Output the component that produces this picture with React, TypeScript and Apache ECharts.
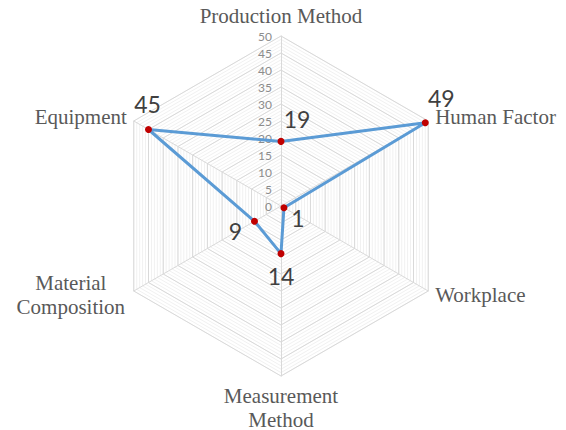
import React, { useEffect, useRef } from "react";
import * as echarts from "echarts";

// Indicators in ECharts order (counter-clockwise from top)
const indicatorNames = [
  "Production Method",
  "Equipment",
  "Material\nComposition",
  "Measurement\nMethod",
  "Workplace",
  "Human Factor",
];
const values = [19, 45, 9, 14, 1, 49];
const axisMax = 50;
const tickStep = 5;
// label offsets [dx, dy] relative to each point, same order as values
const labelOffsets = [
  [16, -22],
  [-1, -26],
  [-19, 10],
  [0, 22],
  [14, 10],
  [16, -25],
];

export default function App() {
  const ref = useRef<HTMLDivElement>(null);
  useEffect(() => {
    if (!ref.current) return;
    const chart = echarts.init(ref.current, null, { renderer: "svg" });
    const center = [281, 206];
    const radius = 170;
    const rich: Record<string, any> = {};
    // padding: [top, right, bottom, left]; to move text up, add bottom padding
    labelOffsets.forEach(([dx, dy], i) => {
      rich["s" + i] = {
        fontFamily: "Lato",
        fontSize: 23,
        color: "#404040",
        padding: [
          dy > 0 ? 2 * dy : 0,
          dx < 0 ? -2 * dx : 0,
          dy < 0 ? -2 * dy : 0,
          dx > 0 ? 2 * dx : 0,
        ],
      };
    });
    chart.setOption({
      animation: false,
      radar: [
        {
          center,
          radius,
          startAngle: 90,
          shape: "polygon",
          splitNumber: axisMax,
          indicator: indicatorNames.map(() => ({ name: "", max: axisMax, min: 0 })),
          axisName: { show: false },
          splitLine: { lineStyle: { color: "#f1f1f1", width: 1 } },
          splitArea: { show: false },
          axisLine: { show: false },
          axisLabel: { show: false },
          axisTick: { show: false },
          silent: true,
        },
        {
          center,
          radius,
          startAngle: 90,
          shape: "polygon",
          splitNumber: axisMax / tickStep,
          nameGap: 8,
          indicator: indicatorNames.map((n, i) => ({
            name: n,
            max: axisMax,
            min: 0,
            ...(i === 0
              ? {
                  axisLabel: {
                    show: true,
                    fontSize: 12,
                    color: "#8c8c8c",
                    fontFamily: "Lato",
                    margin: 9,
                  },
                }
              : {}),
          })),
          axisName: {
            color: "#595959",
            fontFamily: "Liberation Serif",
            fontSize: 21,
            lineHeight: 24,
            formatter: (name: string) =>
              name.indexOf("\n") >= 0
                ? name
                    .split("\n")
                    .map((l) => `{c|${l}}`)
                    .join("\n")
                : name,
            rich: {
              c: {
                color: "#595959",
                fontFamily: "Liberation Serif",
                fontSize: 21,
                lineHeight: 24,
                width: 112,
                align: "center",
              },
            },
          },
          splitLine: { lineStyle: { color: "#d9d9d9", width: 1 } },
          splitArea: { show: false },
          axisLine: { lineStyle: { color: "#d9d9d9" } },
          axisTick: { show: false },
          axisLabel: { show: false },
        },
      ],
      series: [
        {
          type: "radar",
          radarIndex: 1,
          symbol: "circle",
          symbolSize: 7,
          itemStyle: { color: "#C00000" },
          lineStyle: { color: "#5B9BD5", width: 3 },
          label: {
            show: true,
            position: "inside",
            formatter: (p: any) => `{s${values.indexOf(p.value)}|${p.value}}`,
            rich,
          },
          data: [{ value: values }],
        },
      ],
    });
    return () => chart.dispose();
  }, []);
  return (
    <div
      ref={ref}
      style={{ position: "fixed", left: 0, top: 0, width: 566, height: 430, background: "#fff" }}
    />
  );
}
